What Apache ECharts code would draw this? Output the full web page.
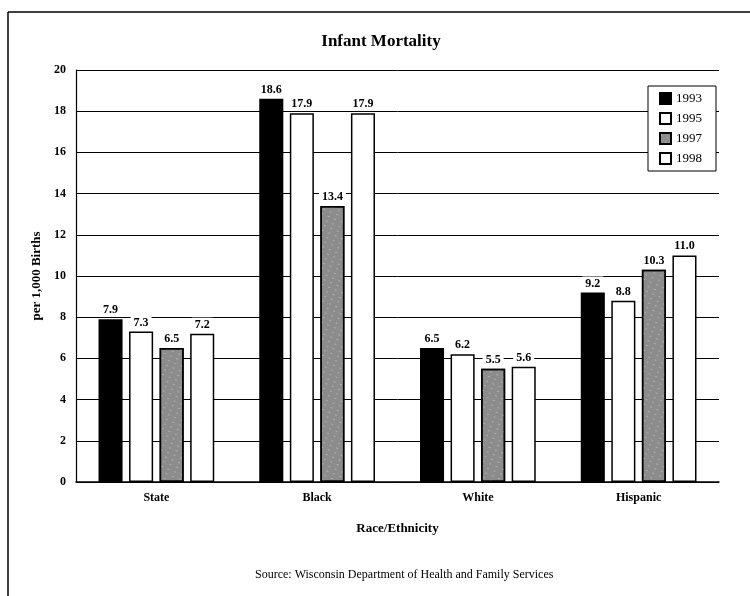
<!DOCTYPE html>
<html>
<head>
<meta charset="utf-8">
<script src="https://cdn.jsdelivr.net/npm/echarts@6/dist/echarts.min.js"></script>
<style>
  html, body { margin: 0; padding: 0; background: #fff; }
  #chart { width: 750px; height: 596px; }
</style>
</head>
<body>
<div id="chart"></div>
<script>
// 数据
var categories = ["State", "Black", "White", "Hispanic"];
var years = ["1993", "1995", "1997", "1998"];
var v1993 = [7.9, 18.6, 6.5, 9.2];
var v1995 = [7.3, 17.9, 6.2, 8.8];
var v1997 = [6.5, 13.4, 5.5, 10.3];
var v1998 = [7.2, 17.9, 5.6, 11.0];

var serif = "Liberation Serif";
var chart = echarts.init(document.getElementById("chart"));

function makeSeries(name, data, fill, decal) {
  var s = {
    name: name,
    type: "bar",
    data: data,
    barGap: "27%",
    barCategoryGap: "28%",
    itemStyle: { color: fill, borderColor: "#000", borderWidth: 1.5 },
    label: {
      show: true,
      position: "top",
      distance: 3,
      color: "#000",
      backgroundColor: "#fff",
      padding: [1, 3, 0, 3],
      fontFamily: serif,
      fontWeight: "bold",
      fontSize: 12,
      formatter: function (p) { return p.value.toFixed(1); }
    }
  };
  if (decal) s.itemStyle.decal = decal;
  return s;
}

var option = {
  animation: false,
  backgroundColor: "#fff",
  title: {
    text: "Infant Mortality",
    left: 376,
    textAlign: "center",
    top: 28,
    textStyle: { fontFamily: serif, fontWeight: "bold", fontSize: 17, color: "#000" }
  },
  legend: {
    orient: "vertical",
    left: 648,
    top: 86,
    padding: [6, 14, 6, 11],
    icon: "rect",
    itemWidth: 11,
    itemHeight: 11,
    itemGap: 7,
    backgroundColor: "#fff",
    borderColor: "#000",
    borderWidth: 1,
    data: years,
    textStyle: { fontFamily: serif, fontSize: 13, color: "#000" }
  },
  grid: { left: 76, right: 31, top: 70, bottom: 114 },
  xAxis: {
    type: "category",
    data: categories,
    name: "Race/Ethnicity",
    nameLocation: "middle",
    nameGap: 40,
    nameTextStyle: { fontFamily: serif, fontWeight: "bold", fontSize: 13, color: "#000" },
    axisLine: { lineStyle: { color: "#000", width: 1.5 } },
    axisTick: { show: false },
    axisLabel: { fontFamily: serif, fontWeight: "bold", fontSize: 12, color: "#000", margin: 10 }
  },
  yAxis: {
    type: "value",
    min: 0,
    max: 20,
    interval: 2,
    name: "per 1,000 Births",
    nameLocation: "middle",
    nameGap: 26,
    nameTextStyle: { fontFamily: serif, fontWeight: "bold", fontSize: 13, color: "#000" },
    axisLine: { show: true, lineStyle: { color: "#000", width: 1.2 } },
    axisTick: { show: false },
    axisLabel: { fontFamily: serif, fontWeight: "bold", fontSize: 12, color: "#000", margin: 10 },
    splitLine: { lineStyle: { color: "#000", width: 1 } }
  },
  graphic: [
    { type: "line", shape: { x1: 8, y1: 12, x2: 750, y2: 12 }, style: { stroke: "#000", lineWidth: 1.5 } },
    { type: "line", shape: { x1: 8, y1: 12, x2: 8, y2: 596 }, style: { stroke: "#000", lineWidth: 1.5 } },
    {
      type: "text",
      left: 255,
      top: 569,
      style: {
        text: "Source: Wisconsin Department of Health and Family Services",
        font: "12px 'Liberation Serif'",
        fill: "#000"
      }
    }
  ],
  series: [
    makeSeries("1993", v1993, "#000"),
    makeSeries("1995", v1995, "#fff"),
    makeSeries("1997", v1997, "#8c8c8c", {
      symbol: "circle",
      symbolSize: 0.35,
      color: "rgba(255,255,255,0.8)",
      dashArrayX: [4, 3],
      dashArrayY: [3, 2],
      rotation: 0.4
    }),
    makeSeries("1998", v1998, "#fff")
  ]
};

chart.setOption(option);
</script>
</body>
</html>
